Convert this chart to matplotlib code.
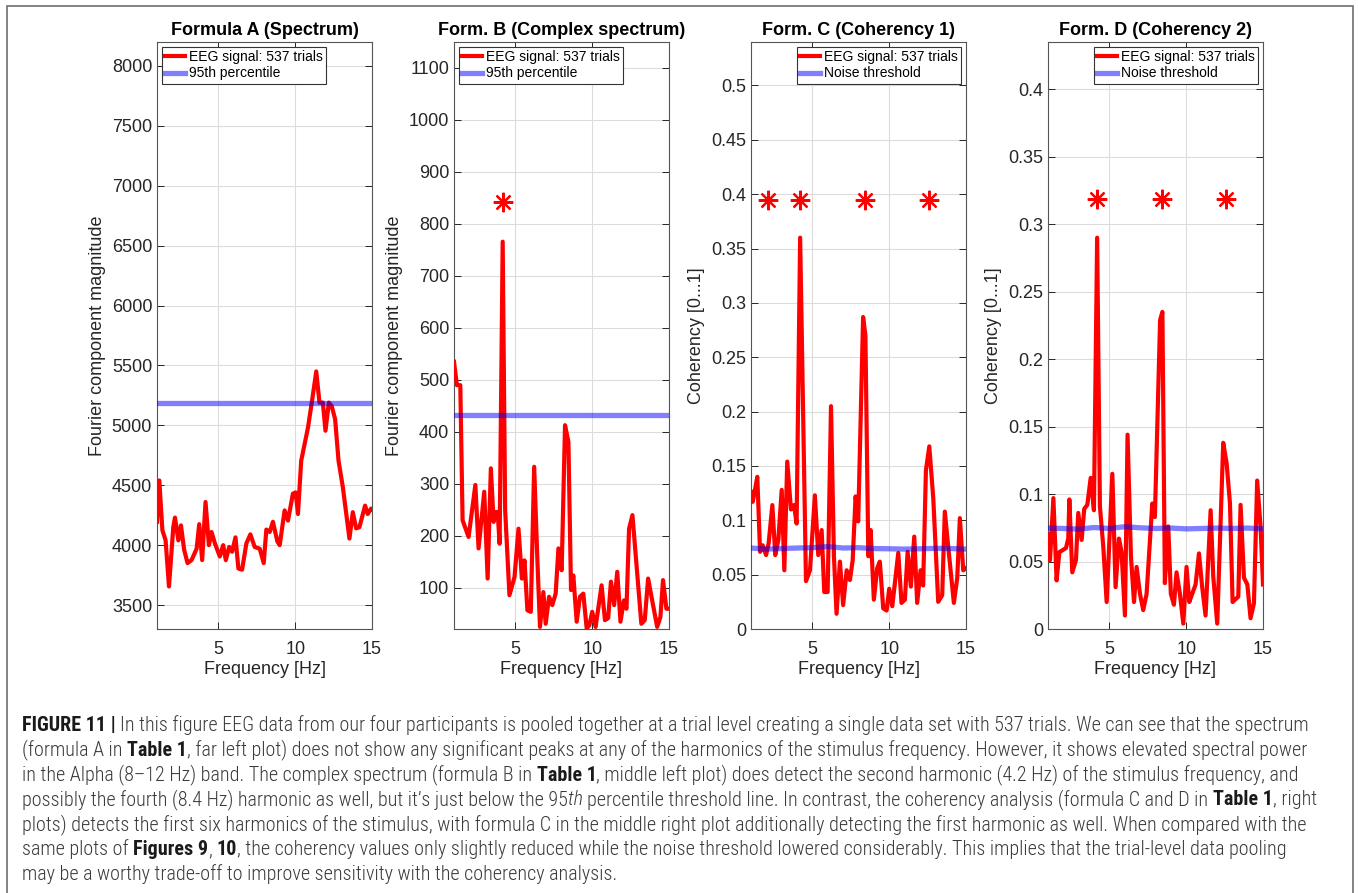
"""
EEG pooled-trial figure (Figure 11): spectrum, complex spectrum, two coherency formulas
"""

import matplotlib
matplotlib.use("Agg")
import matplotlib.pyplot as plt
from matplotlib import font_manager
from matplotlib.patches import Rectangle
from matplotlib.ticker import FormatStrFormatter
import numpy as np

# ============================================================
# data
# ============================================================

# Formula A - spectrum
freq_a = [1.0, 1.15, 1.35, 1.56, 1.78, 2.06, 2.17, 2.39, 2.56, 2.77, 2.99, 3.25, 3.58,
          3.75, 3.94, 4.16, 4.38, 4.55, 4.77, 5.09, 5.31, 5.48, 5.70, 5.89, 6.11, 6.30,
          6.54, 6.82, 7.08, 7.36, 7.69, 7.95, 8.12, 8.34, 8.55, 8.84, 8.99, 9.31, 9.53,
          9.85, 10.03, 10.18, 10.39, 10.83, 11.09, 11.37, 11.58, 11.80, 11.97, 12.19,
          12.38, 12.60, 12.82, 13.10, 13.53, 13.75, 13.97, 14.18, 14.55, 14.72, 14.94, 15.0]
mag_a = [4195, 4540, 4125, 4040, 3655, 4150, 4230, 4040, 4165, 3960, 3850, 3875, 3970,
         4175, 3875, 4360, 4000, 4110, 4015, 3905, 4000, 3875, 3985, 3945, 4065, 3805,
         3795, 4015, 4090, 3985, 3970, 3850, 4130, 4110, 4195, 4030, 4000, 4290, 4205,
         4430, 4440, 4260, 4705, 4980, 5200, 5450, 5190, 5190, 4955, 5190,
         5160, 5050, 4705, 4485, 4055, 4275, 4140, 4150, 4330, 4260, 4305, 4300]
thr_a = 5185

# Formula B - complex spectrum
freq_b = [1.0, 1.19, 1.41, 1.56, 1.95, 2.39, 2.60, 2.97, 3.19, 3.40, 3.58, 3.68, 3.84,
          3.97, 4.17, 4.33, 4.61, 4.94, 5.20, 5.42, 5.59, 5.78, 6.00, 6.22, 6.43, 6.60,
          6.82, 6.97, 7.19, 7.40, 7.62, 7.80, 8.01, 8.23, 8.45, 8.62, 8.77, 8.99, 9.20,
          9.42, 9.64, 9.81, 10.0, 10.22, 10.61, 10.83, 11.04, 11.22, 11.43, 11.63, 11.84,
          12.06, 12.23, 12.40, 12.62, 12.84, 13.20, 13.42, 13.64, 13.86, 14.23, 14.44,
          14.61, 14.83, 15.0]
mag_b = [535, 490, 490, 230, 198, 298, 176, 285, 118, 330, 227, 246, 246,
         185, 766, 250, 86, 121, 214, 118, 153, 57, 54, 333, 153, 25,
         92, 31, 83, 67, 89, 176, 134, 413, 381, 96, 124, 35, 83,
         89, 22, 28, 54, 25, 105, 38, 42, 112, 67, 131, 35,
         76, 60, 214, 240, 160, 31, 38, 118, 83, 25, 44,
         115, 60, 60]
thr_b = 433
star_b_f = [4.2]
star_b_y = [843]

# Formula C - coherency 1
freq_c = [1.0, 1.11, 1.26, 1.41, 1.59, 1.76, 1.98, 2.15, 2.39, 2.58, 2.78, 3.0, 3.17,
          3.36, 3.60, 3.80, 3.97, 4.20, 4.58, 4.84, 5.16, 5.38, 5.60, 5.77, 5.99, 6.21,
          6.40, 6.57, 6.79, 7.0, 7.23, 7.44, 7.62, 7.81, 7.98, 8.30, 8.45, 8.64, 8.79,
          9.0, 9.22, 9.39, 9.61, 9.83, 10.0, 10.2, 10.59, 10.8, 11.02, 11.2, 11.41, 11.63,
          11.82, 12.04, 12.21, 12.39, 12.61, 12.87, 13.19, 13.45, 13.62, 13.84, 14.21,
          14.43, 14.60, 14.82, 15.0]
coh_c = [0.126, 0.117, 0.128, 0.140, 0.071, 0.077, 0.068, 0.079, 0.114, 0.068, 0.082, 0.128, 0.054,
         0.154, 0.110, 0.114, 0.097, 0.360, 0.044, 0.054, 0.123, 0.068, 0.091, 0.034, 0.034, 0.205,
         0.067, 0.014, 0.062, 0.022, 0.054, 0.045, 0.063, 0.122, 0.099, 0.287, 0.270, 0.067, 0.091,
         0.027, 0.056, 0.062, 0.019, 0.017, 0.037, 0.021, 0.070, 0.024, 0.027, 0.071, 0.039, 0.085,
         0.024, 0.054, 0.040, 0.146, 0.168, 0.120, 0.025, 0.031, 0.108, 0.076, 0.024,
         0.047, 0.102, 0.054, 0.056]
thr_c_f = [1.0, 2.0, 3.0, 4.0, 5.0, 6.0, 7.0, 8.0, 9.0, 10.0, 11.0, 12.0, 13.0, 14.0, 15.0]
thr_c = [0.0745, 0.0735, 0.0740, 0.0745, 0.0748, 0.0758, 0.0745, 0.0748, 0.0740, 0.0738,
         0.0735, 0.0738, 0.0742, 0.0740, 0.0735]
star_c_f = [2.1, 4.2, 8.4, 12.6]
star_c_y = [0.395, 0.395, 0.395, 0.395]

# Formula D - coherency 2
freq_d = [1.0, 1.13, 1.35, 1.56, 1.74, 1.89, 2.17, 2.32, 2.39, 2.58, 2.82, 2.97, 3.19,
          3.36, 3.56, 3.78, 3.99, 4.20, 4.38, 4.60, 4.82, 5.19, 5.40, 5.62, 5.79, 6.01,
          6.18, 6.40, 6.60, 6.77, 6.99, 7.20, 7.42, 7.79, 7.96, 8.30, 8.45, 8.61, 8.83,
          9.0, 9.2, 9.37, 9.59, 9.81, 10.02, 10.2, 10.39, 10.61, 10.83, 11.04, 11.26,
          11.59, 11.76, 12.02, 12.41, 12.63, 12.85, 13.02, 13.39, 13.54, 13.76, 13.98,
          14.19, 14.41, 14.62, 14.84, 15.0]
coh_d = [0.070, 0.051, 0.097, 0.036, 0.057, 0.058, 0.060, 0.067, 0.096, 0.042, 0.051, 0.086, 0.066,
         0.089, 0.092, 0.112, 0.088, 0.290, 0.091, 0.061, 0.020, 0.115, 0.031, 0.067, 0.057, 0.010,
         0.144, 0.054, 0.020, 0.046, 0.026, 0.014, 0.026, 0.093, 0.083, 0.229, 0.235, 0.034, 0.076,
         0.026, 0.018, 0.042, 0.026, 0.004, 0.046, 0.020, 0.026, 0.033, 0.056, 0.031, 0.010,
         0.088, 0.039, 0.004, 0.138, 0.123, 0.093, 0.020, 0.024, 0.092, 0.038, 0.033,
         0.008, 0.019, 0.110, 0.076, 0.033]
thr_d_f = [1.0, 2.0, 3.0, 4.0, 5.0, 6.0, 7.0, 8.0, 9.0, 10.0, 11.0, 12.0, 13.0, 14.0, 15.0]
thr_d = [0.0748, 0.0745, 0.0740, 0.0752, 0.0745, 0.0758, 0.0750, 0.0745, 0.0748, 0.0742,
         0.0745, 0.0748, 0.0745, 0.0748, 0.0742]
star_d_f = [4.2, 8.4, 12.6]
star_d_y = [0.319, 0.319, 0.319]

# ============================================================
# style
# ============================================================
W, H = 1358, 893
AX_FONT = "Liberation Sans"
RED = "#ff0000"
BLUE = "#0000ff"
AX_COL = "#262626"

plt.rcParams["font.family"] = [AX_FONT, "DejaVu Sans"]


def pick_caption_font():
    for name in ["Liberation Sans Narrow", "Roboto Condensed", "Open Sans Condensed", "Liberation Sans"]:
        try:
            font_manager.findfont(font_manager.FontProperties(family=name), fallback_to_default=False)
            return name
        except Exception:
            continue
    return "DejaVu Sans"


CAP_FONT = pick_caption_font()

fig = plt.figure(figsize=(W / 100, H / 100), dpi=100)

# outer frame of the figure panel
fig.patches.append(Rectangle((7 / W, -0.02), (1353 - 7) / W, 1.02 - 6 / H,
                             transform=fig.transFigure, fill=False,
                             edgecolor="#7a7a7a", linewidth=1.3))


def px_axes(left, right, top=42, bottom=629):
    return fig.add_axes([left / W, 1 - bottom / H, (right - left) / W, (bottom - top) / H])


def style_axes(ax, title, ylabel, ylim, yticks, fmt):
    ax.set_xlim(1, 15)
    ax.set_ylim(*ylim)
    ax.set_xticks([5, 10, 15])
    ax.set_yticks(yticks)
    ax.yaxis.set_major_formatter(FormatStrFormatter(fmt))
    ax.grid(True, color="#dcdcdc", linewidth=0.8)
    ax.set_axisbelow(True)
    ax.tick_params(direction="in", length=5, width=0.7, top=True, right=True,
                   labelsize=13, colors=AX_COL)
    ax.tick_params(axis="x", pad=9)
    ax.tick_params(axis="y", pad=3.5)
    for sp in ax.spines.values():
        sp.set_color("#555555")
        sp.set_linewidth(0.8)
    ax.set_title(title, fontsize=13, fontweight="bold", pad=5, color="black")
    ax.set_xlabel("Frequency [Hz]", fontsize=13, color=AX_COL, labelpad=2)
    ax.set_ylabel(ylabel, fontsize=13, color=AX_COL, labelpad=4)


def gfmt(v, pos):
    return "%g" % v


def add_legend(ax, labels, loc):
    leg = ax.legend(labels, loc=loc, fontsize=10, frameon=True, fancybox=False,
                    framealpha=1, edgecolor="#333333", borderpad=0.25,
                    labelspacing=0.15, handlelength=1.4, handletextpad=0.3,
                    borderaxespad=0.35)
    leg.get_frame().set_linewidth(0.8)


# ============================================================
# panels
# ============================================================
ax_a = px_axes(157, 372)
ax_b = px_axes(454, 669)
ax_c = px_axes(751, 966)
ax_d = px_axes(1048, 1263)

# A
ax_a.plot(freq_a, mag_a, color=RED, linewidth=3, zorder=3)
ax_a.axhline(thr_a, color=BLUE, alpha=0.5, linewidth=3.8, zorder=4)
style_axes(ax_a, "Formula A (Spectrum)", "Fourier component magnitude",
           (3300, 8200), np.arange(3500, 8001, 500), "%d")
add_legend(ax_a, ["EEG signal: 537 trials", "95th percentile"], "upper left")

# B
ax_b.plot(freq_b, mag_b, color=RED, linewidth=3, zorder=3)
ax_b.axhline(thr_b, color=BLUE, alpha=0.5, linewidth=3.8, zorder=4)
ax_b.plot(star_b_f, star_b_y, linestyle="none", marker=(8, 2, 0), markersize=14,
          markeredgewidth=1.6, color=RED, zorder=5)
style_axes(ax_b, "Form. B (Complex spectrum)", "Fourier component magnitude",
           (21, 1150), np.arange(100, 1101, 100), "%d")
add_legend(ax_b, ["EEG signal: 537 trials", "95th percentile"], "upper left")

# C
ax_c.plot(freq_c, coh_c, color=RED, linewidth=3, zorder=3)
ax_c.plot(thr_c_f, thr_c, color=BLUE, alpha=0.5, linewidth=3.8, zorder=4)
ax_c.plot(star_c_f, star_c_y, linestyle="none", marker=(8, 2, 0), markersize=14,
          markeredgewidth=1.6, color=RED, zorder=5)
style_axes(ax_c, "Form. C (Coherency 1)", "Coherency [0...1]",
           (0, 0.54), np.round(np.arange(0, 0.501, 0.05), 2), "%g")
add_legend(ax_c, ["EEG signal: 537 trials", "Noise threshold"], "upper right")

# D
ax_d.plot(freq_d, coh_d, color=RED, linewidth=3, zorder=3)
ax_d.plot(thr_d_f, thr_d, color=BLUE, alpha=0.5, linewidth=3.8, zorder=4)
ax_d.plot(star_d_f, star_d_y, linestyle="none", marker=(8, 2, 0), markersize=14,
          markeredgewidth=1.6, color=RED, zorder=5)
style_axes(ax_d, "Form. D (Coherency 2)", "Coherency [0...1]",
           (0, 0.435), np.round(np.arange(0, 0.401, 0.05), 2), "%g")
add_legend(ax_d, ["EEG signal: 537 trials", "Noise threshold"], "upper right")

for ax in (ax_c, ax_d):
    ax.yaxis.set_major_formatter(gfmt)

# ============================================================
# caption (mixed bold / italic runs)
# ============================================================
N, B, I = "normal", "bold", "italic"
caption_lines = [
    [("FIGURE 11 |", B), (" In this figure EEG data from our four participants is pooled together at a trial level creating a single data set with 537 trials. We can see that the spectrum", N)],
    [("(formula A in ", N), ("Table 1", B), (", far left plot) does not show any significant peaks at any of the harmonics of the stimulus frequency. However, it shows elevated spectral power", N)],
    [("in the Alpha (8\u201312 Hz) band. The complex spectrum (formula B in ", N), ("Table 1", B), (", middle left plot) does detect the second harmonic (4.2 Hz) of the stimulus frequency, and", N)],
    [("possibly the fourth (8.4 Hz) harmonic as well, but it\u2019s just below the 95", N), ("th", I), (" percentile threshold line. In contrast, the coherency analysis (formula C and D in ", N), ("Table 1", B), (", right", N)],
    [("plots) detects the first six harmonics of the stimulus, with formula C in the middle right plot additionally detecting the first harmonic as well. When compared with the", N)],
    [("same plots of ", N), ("Figures 9", B), (", ", N), ("10", B), (", the coherency values only slightly reduced while the noise threshold lowered considerably. This implies that the trial-level data pooling", N)],
    [("may be a worthy trade-off to improve sensitivity with the coherency analysis.", N)],
]
# right end of each caption line in the reference
caption_ends = [1343, 1331, 1299, 1343, 1316, 1301, 660]
CAP_X = 22
CAP_Y0 = 731
CAP_DY = 24.8

renderer = fig.canvas.get_renderer()


def run_props(kind):
    weight = "bold" if kind == B else "light"
    style = "italic" if kind == I else "normal"
    color = "#1a1a1a" if kind == B else "#3a3a3a"
    return weight, style, color


def text_w(s, size, kind):
    weight, style, _ = run_props(kind)
    t = fig.text(0, 0, s, fontsize=size, fontweight=weight, fontstyle=style, family=CAP_FONT)
    w = t.get_window_extent(renderer).width
    t.remove()
    return w


def space_w(size, kind):
    return text_w("a a", size, kind) - text_w("aa", size, kind)


def draw_line(runs, y, size, draw=True):
    x = CAP_X
    for s, kind in runs:
        sw = space_w(size, kind)
        core = s.strip(" ")
        lead = len(s) - len(s.lstrip(" "))
        trail = len(s) - len(s.rstrip(" "))
        x += lead * sw
        if core:
            weight, style, color = run_props(kind)
            if draw:
                fig.text(x / W, 1 - y / H, core, fontsize=size, fontweight=weight,
                         fontstyle=style, family=CAP_FONT, color=color,
                         ha="left", va="baseline")
            x += text_w(core, size, kind)
        x += trail * sw
    return x - CAP_X


base = 12.0
cap_size = min(base * (end - CAP_X) / draw_line(runs, CAP_Y0, base, draw=False)
               for runs, end in zip(caption_lines[:-1], caption_ends[:-1]))

for i, runs in enumerate(caption_lines):
    draw_line(runs, CAP_Y0 + i * CAP_DY, cap_size)

fig.savefig("out.png", dpi=100)
print("caption font:", CAP_FONT, round(cap_size, 2))
